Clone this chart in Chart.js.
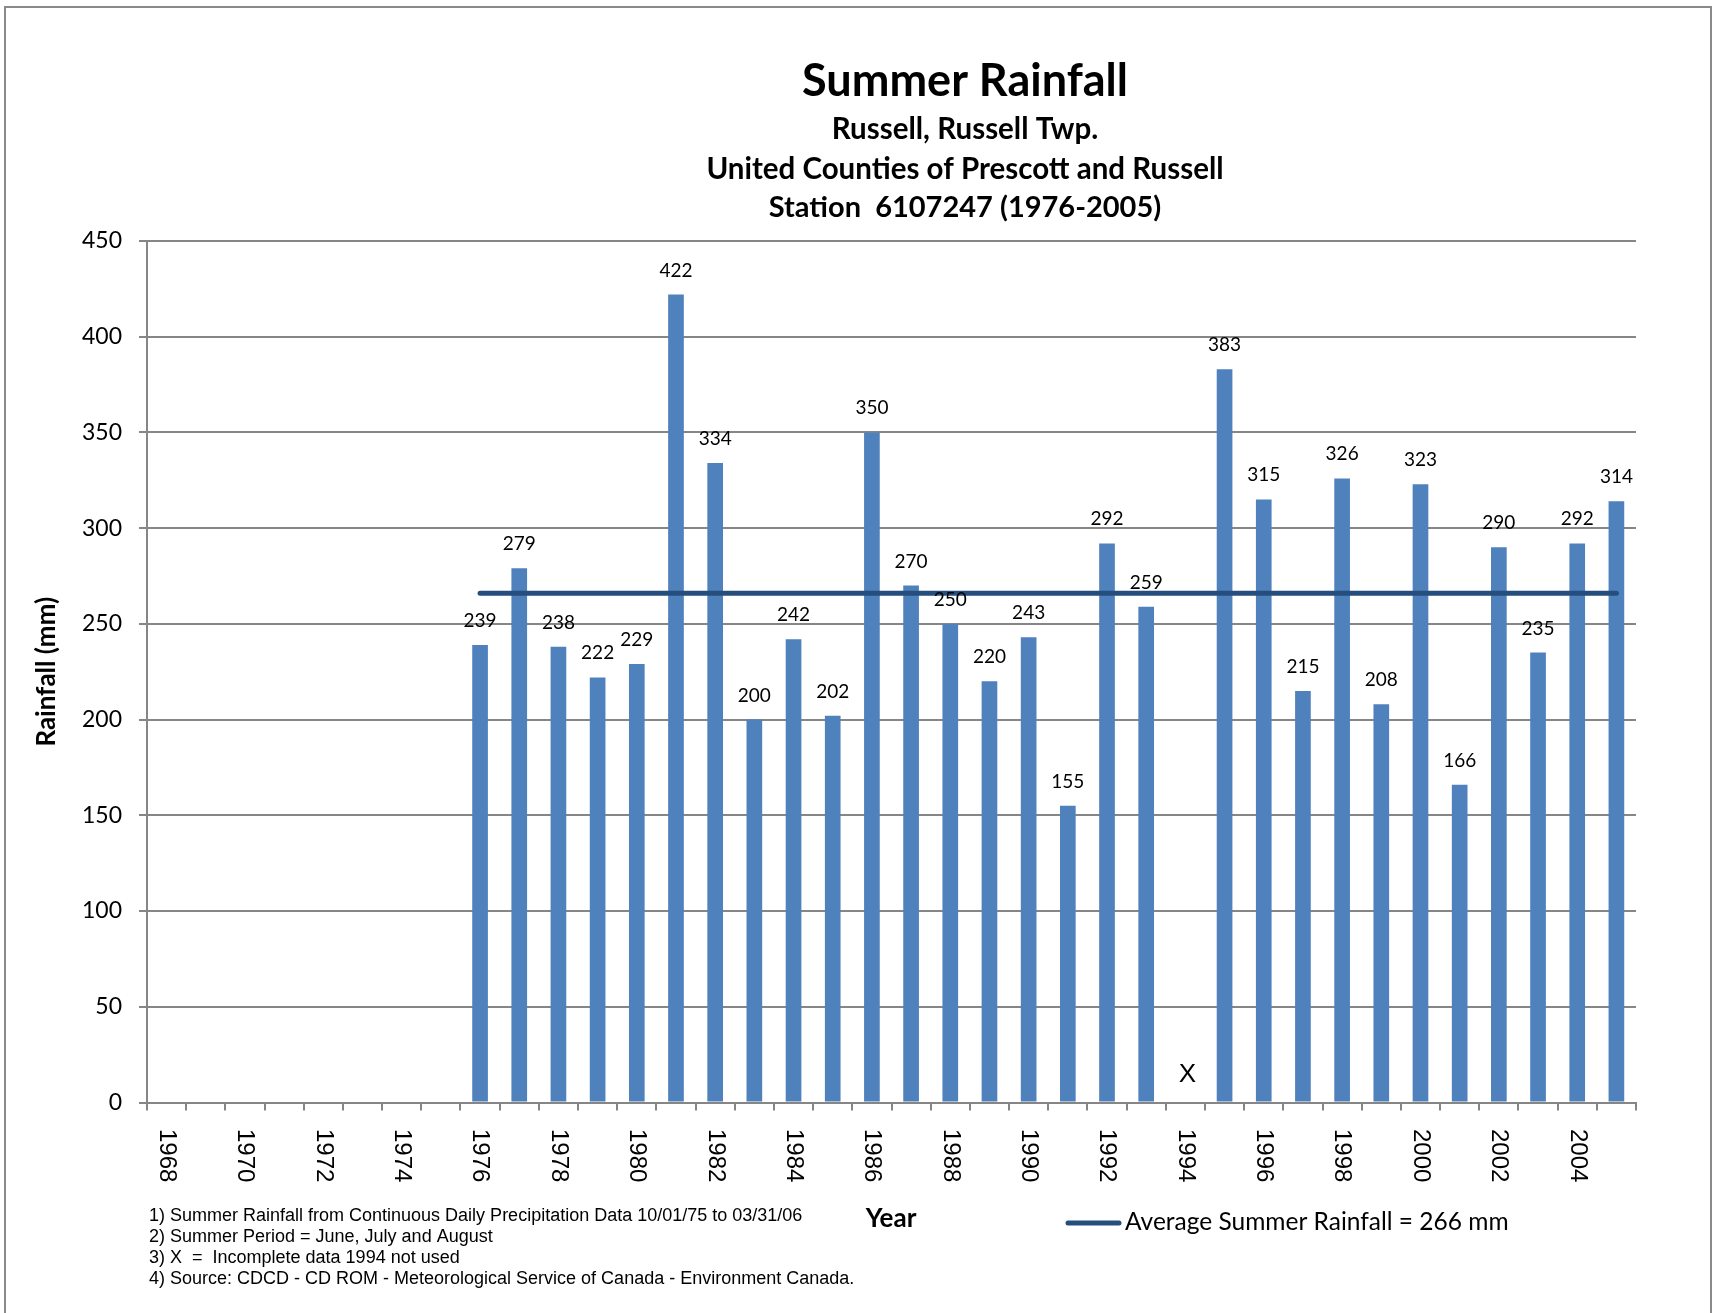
<!DOCTYPE html>
<html>
<head>
<meta charset="utf-8">
<title>Summer Rainfall - Russell</title>
<script src="https://cdn.jsdelivr.net/npm/chart.js@4.4.1/dist/chart.umd.min.js"></script>
<style>
  html, body { margin: 0; padding: 0; background: #ffffff; }
  #wrap { position: relative; width: 1720px; height: 1313px; }
  canvas { display: block; }
</style>
</head>
<body>
<div id="wrap"><canvas id="chart" width="1720" height="1313"></canvas></div>
<script>
// Category axis: every year on the axis, 1968 through 2005
const years = ['1968','1969','1970','1971','1972','1973','1974','1975','1976','1977',
               '1978','1979','1980','1981','1982','1983','1984','1985','1986','1987',
               '1988','1989','1990','1991','1992','1993','1994','1995','1996','1997',
               '1998','1999','2000','2001','2002','2003','2004','2005'];

// Station record years and summer rainfall totals (mm); 1994 incomplete
const recordYears = ['1976','1977','1978','1979','1980','1981','1982','1983','1984','1985',
                     '1986','1987','1988','1989','1990','1991','1992','1993','1994','1995',
                     '1996','1997','1998','1999','2000','2001','2002','2003','2004','2005'];
const rainfall = [239, 279, 238, 222, 229, 422, 334, 200, 242, 202,
                  350, 270, 250, 220, 243, 155, 292, 259, null, 383,
                  315, 215, 326, 208, 323, 166, 290, 235, 292, 314];

// Long-term average and the span it covers
const averageRainfall = 266;
const averageSpan = ['1976', '2005'];
const missingYear = '1994';

// Labelled years on the category axis
const yearLabels = ['1968','1970','1972','1974','1976','1978','1980','1982','1984','1986',
                    '1988','1990','1992','1994','1996','1998','2000','2002','2004'];

const titleLines = ['Summer Rainfall', 'Russell, Russell Twp.',
                    'United Counties of Prescott and Russell', 'Station  6107247 (1976-2005)'];
const notes = [
  '1) Summer Rainfall from Continuous Daily Precipitation Data 10/01/75 to 03/31/06',
  '2) Summer Period = June, July and August',
  '3) X  =  Incomplete data 1994 not used',
  '4) Source: CDCD - CD ROM - Meteorological Service of Canada - Environment Canada.'
];
const legendText = 'Average Summer Rainfall = ' + averageRainfall + ' mm';

const BAR = '#4F81BD';
const AVG = '#254E7E';
const GRID = '#868686';
const CAL = 'Lato, "Open Sans", sans-serif';
const NARROW = '"Liberation Sans Narrow", "Liberation Sans", Arial, sans-serif';

const decorations = {
  id: 'decorations',
  beforeDraw(chart) {
    const ctx = chart.ctx;
    ctx.save();
    ctx.fillStyle = '#ffffff';
    ctx.fillRect(0, 0, chart.width, chart.height);
    // outer frame
    ctx.strokeStyle = '#8a8a8a';
    ctx.lineWidth = 2;
    ctx.beginPath();
    ctx.moveTo(5, 1313); ctx.lineTo(5, 7); ctx.lineTo(1711, 7); ctx.lineTo(1711, 1313);
    ctx.stroke();
    ctx.restore();
  },
  afterDraw(chart) {
    const ctx = chart.ctx;
    const xs = chart.scales.x;
    const ys = chart.scales.y;
    ctx.save();
    ctx.fillStyle = '#000';

    // titles
    ctx.textAlign = 'center';
    ctx.textBaseline = 'middle';
    ctx.font = 'bold 45px ' + CAL;
    ctx.fillText(titleLines[0], 965, 81);
    ctx.font = 'bold 29.5px ' + CAL;
    ctx.fillText(titleLines[1], 965, 129);
    ctx.fillText(titleLines[2], 965, 169);
    ctx.font = 'bold 29px ' + CAL;
    ctx.fillText(titleLines[3], 965, 208);

    // value labels above bars
    const meta = chart.getDatasetMeta(1);
    ctx.font = '19px ' + CAL;
    ctx.textBaseline = 'alphabetic';
    meta.data.forEach((bar, i) => {
      const v = rainfall[i];
      if (v === null || v === undefined) return;
      ctx.fillText(String(v), bar.x, bar.y - 18);
    });

    // missing-year marker
    ctx.font = '26px ' + NARROW;
    ctx.textBaseline = 'middle';
    ctx.fillText('X', xs.getPixelForValue(years.indexOf(missingYear)) + 2, 1075);

    // year labels, reading top to bottom
    ctx.font = '24px ' + NARROW;
    ctx.textAlign = 'left';
    yearLabels.forEach(lbl => {
      const px = xs.getPixelForValue(years.indexOf(lbl));
      ctx.save();
      ctx.translate(px, ys.bottom + 26.5);
      ctx.rotate(Math.PI / 2);
      ctx.fillText(lbl, 0, 0);
      ctx.restore();
    });

    // axis title
    ctx.textAlign = 'center';
    ctx.font = 'bold 26px ' + CAL;
    ctx.fillText('Year', 891, 1219);

    // footnotes
    ctx.textAlign = 'left';
    ctx.font = '18px "Liberation Sans", Arial, sans-serif';
    notes.forEach((t, i) => ctx.fillText(t, 149, 1216 + i * 21));

    // legend
    ctx.strokeStyle = AVG;
    ctx.lineWidth = 5;
    ctx.lineCap = 'round';
    ctx.beginPath();
    ctx.moveTo(1068, 1223); ctx.lineTo(1119, 1223);
    ctx.stroke();
    ctx.font = '24.5px ' + CAL;
    ctx.fillText(legendText, 1125, 1222);
    ctx.restore();
  }
};

new Chart(document.getElementById('chart'), {
  type: 'bar',
  data: {
    labels: years,
    datasets: [
      {
        type: 'line',
        label: legendText,
        data: averageSpan.map(y => ({ x: y, y: averageRainfall })),
        borderColor: AVG,
        borderWidth: 5,
        borderCapStyle: 'round',
        pointRadius: 0,
        fill: false,
        order: 0
      },
      {
        type: 'bar',
        label: 'Summer Rainfall',
        data: recordYears.map((y, i) => ({ x: y, y: rainfall[i] })),
        backgroundColor: BAR,
        borderWidth: 0,
        barPercentage: 0.4,
        categoryPercentage: 1.0,
        order: 1
      }
    ]
  },
  options: {
    responsive: false,
    animation: false,
    layout: { padding: { top: 241, right: 84, left: 0, bottom: 0 } },
    plugins: {
      legend: { display: false },
      tooltip: { enabled: false },
      title: { display: false }
    },
    scales: {
      x: {
        type: 'category',
        offset: true,
        grid: { display: true, drawOnChartArea: false, drawTicks: true, tickLength: 8,
                color: GRID, lineWidth: 2, offset: true },
        border: { display: true, color: GRID, width: 2 },
        ticks: { display: false },
        afterFit: s => { s.height = 210.5; }
      },
      y: {
        min: 0,
        max: 450,
        ticks: { stepSize: 50, padding: 17, color: '#000', font: { family: CAL, size: 23 } },
        grid: { color: GRID, lineWidth: 2, tickLength: 8 },
        border: { color: GRID, width: 2 },
        title: { display: true, text: 'Rainfall (mm)', color: '#000',
                 font: { family: CAL, weight: 'bold', size: 26 }, padding: { top: 31, bottom: 0 } },
        afterFit: s => { s.width = 147; }
      }
    }
  },
  plugins: [decorations]
});
</script>
</body>
</html>
